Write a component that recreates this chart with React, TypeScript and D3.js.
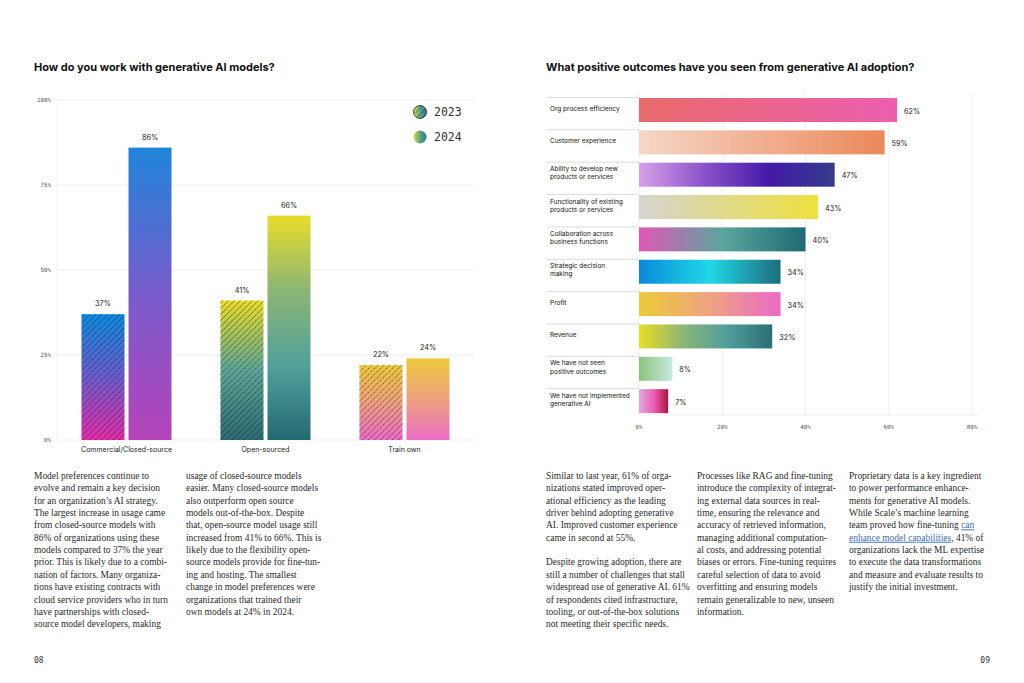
import React from "react";
import * as d3 from "d3";

// ---------- DATA ----------
const modelCategories = ["Commercial/Closed-source", "Open-sourced", "Train own"];
const years = ["2023", "2024"];
const values2023 = [37, 41, 22];
const values2024 = [86, 66, 24];
const yTicks = [0, 25, 50, 75, 100];

const outcomeLabels = [
  ["Org process efficiency"],
  ["Customer experience"],
  ["Ability to develop new", "products or services"],
  ["Functionality of existing", "products or services"],
  ["Collaboration across", "business functions"],
  ["Strategic decision", "making"],
  ["Profit"],
  ["Revenue"],
  ["We have not seen", "positive outcomes"],
  ["We have not implemented", "generative AI"],
];
const outcomeValues = [62, 59, 47, 43, 40, 34, 34, 32, 8, 7];
const xTicks = [0, 20, 40, 60, 80];

const titleLeft = "How do you work with generative AI models?";
const titleRight = "What positive outcomes have you seen from generative AI adoption?";

const col1 = [
  "Model preferences continue to",
  "evolve and remain a key decision",
  "for an organization\u2019s AI strategy.",
  "The largest increase in usage came",
  "from closed-source models with",
  "86% of organizations using these",
  "models compared to 37% the year",
  "prior. This is likely due to a combi-",
  "nation of factors. Many organiza-",
  "tions have existing contracts with",
  "cloud service providers who in turn",
  "have partnerships with closed-",
  "source model developers, making",
];
const col2 = [
  "usage of closed-source models",
  "easier. Many closed-source models",
  "also outperform open source",
  "models out-of-the-box. Despite",
  "that, open-source model usage still",
  "increased from 41% to 66%. This is",
  "likely due to the flexibility open-",
  "source models provide for fine-tun-",
  "ing and hosting. The smallest",
  "change in model preferences were",
  "organizations that trained their",
  "own models at 24% in 2024.",
];
const col3 = [
  "Similar to last year, 61% of orga-",
  "nizations stated improved oper-",
  "ational efficiency as the leading",
  "driver behind adopting generative",
  "AI. Improved customer experience",
  "came in second at 55%.",
  "",
  "Despite growing adoption, there are",
  "still a number of challenges that stall",
  "widespread use of generative AI. 61%",
  "of respondents cited infrastructure,",
  "tooling, or out-of-the-box solutions",
  "not meeting their specific needs.",
];
const col4 = [
  "Processes like RAG and fine-tuning",
  "introduce the complexity of integrat-",
  "ing external data sources in real-",
  "time, ensuring the relevance and",
  "accuracy of retrieved information,",
  "managing additional computation-",
  "al costs, and addressing potential",
  "biases or errors. Fine-tuning requires",
  "careful selection of data to avoid",
  "overfitting and ensuring models",
  "remain generalizable to new, unseen",
  "information.",
];
// segments: [text, isLink]
const col5: [string, boolean][][] = [
  [["Proprietary data is a key ingredient", false]],
  [["to power performance enhance-", false]],
  [["ments for generative AI models.", false]],
  [["While Scale\u2019s machine learning", false]],
  [["team proved how fine-tuning ", false], ["can", true]],
  [["enhance model capabilities", true], [", 41% of", false]],
  [["organizations lack the ML expertise", false]],
  [["to execute the data transformations", false]],
  [["and measure and evaluate results to", false]],
  [["justify the initial investment.", false]],
];
const pageLeft = "08";
const pageRight = "09";

// ---------- STYLES ----------
const grad2023 = [
  ["#0a8ae0", "#6c5ccc", "#e52cab"],
  ["#e9dd28", "#5da596", "#2c6b73"],
  ["#ecc83a", "#efa07f", "#ea6cc6"],
];
const grad2024 = [
  ["#2085db", "#785ccb", "#b643b9"],
  ["#e9dc28", "#8bb674", "#52a19b", "#226a73"],
  ["#eec93a", "#eea27f", "#ec6dc7"],
];
const outcomeGrads = [
  ["#e96a6a", "#ec5fb0"],
  ["#f6d6c7", "#eb895b"],
  ["#d8a0e6", "#8a52c9", "#4419a8", "#343c8b"],
  ["#d5d4cf", "#eee03e"],
  ["#e157b6", "#5aa69d", "#1f6a73"],
  ["#0a88da", "#20d8e7", "#1c6d7c"],
  ["#eccb38", "#eea380", "#eb6ac8"],
  ["#e8de24", "#8bb677", "#4f9d9b", "#2a6f75"],
  ["#8cc47d", "#c7e9de"],
  ["#deaadb", "#ec5fb9", "#ad143b"],
];

const SANS = "Inter, 'Liberation Sans', sans-serif";
const MONO = "'DejaVu Sans Mono', monospace";
const SERIF = "'Liberation Serif', 'DejaVu Serif', serif";
const BODY_SIZE = 9.45;

function Stops({ colors }: { colors: string[] }) {
  return (
    <>
      {colors.map((c, i) => (
        <stop key={i} offset={`${(i / (colors.length - 1)) * 100}%`} stopColor={c} />
      ))}
    </>
  );
}

export default function App() {
  // left chart scales
  const y = d3.scaleLinear().domain([0, 100]).range([440, 100]);
  const x0 = d3.scaleBand().domain(modelCategories).range([57, 474]).paddingInner(0).paddingOuter(0);
  const barW = 43;
  const gap = 4;

  // right chart scales
  const x = d3.scaleLinear().domain([0, 80]).range([639, 972]);
  const rowStep = 32.35;
  const rowTop = (i: number) => 98 + i * rowStep;
  const barH = 24;

  const textLine = 12.35;

  const renderCol = (lines: string[], x0: number) => (
    <text fontFamily={SERIF} fontSize={BODY_SIZE} fill="#2a2a2a">
      {lines.map((l, i) => (
        <tspan key={i} x={x0} y={479 + i * textLine}>
          {l}
        </tspan>
      ))}
    </text>
  );

  return (
    <svg
      width={1024}
      height={683}
      style={{ position: "absolute", left: 0, top: 0, background: "#fff" }}
    >
      <defs>
        <pattern
          id="hatch"
          patternUnits="userSpaceOnUse"
          width={4.2}
          height={4.2}
          patternTransform="rotate(45)"
        >
          <line x1={0} y1={0} x2={0} y2={4.2} stroke="#111" strokeWidth={0.85} strokeDasharray="1 0.6" />
        </pattern>
        {grad2023.map((g, i) => (
          <linearGradient key={"a" + i} id={`g23-${i}`} x1="0" y1="0" x2="0" y2="1">
            <Stops colors={g} />
          </linearGradient>
        ))}
        {grad2024.map((g, i) => (
          <linearGradient key={"b" + i} id={`g24-${i}`} x1="0" y1="0" x2="0" y2="1">
            <Stops colors={g} />
          </linearGradient>
        ))}
        {outcomeGrads.map((g, i) => (
          <linearGradient key={"o" + i} id={`go-${i}`} x1="0" y1="0" x2="1" y2="0">
            <Stops colors={g} />
          </linearGradient>
        ))}
        <linearGradient id="legendGrad" x1="0" y1="0" x2="1" y2="0">
          <Stops colors={["#e8dc2a", "#5aa598", "#2c7a80"]} />
        </linearGradient>
      </defs>

      {/* ---------- LEFT CHART ---------- */}
      <text x={34} y={71} fontFamily={SANS} fontWeight={700} fontSize={11} fill="#111">
        {titleLeft}
      </text>
      {yTicks.map((t) => (
        <g key={t}>
          <line x1={57} x2={474} y1={y(t)} y2={y(t)} stroke="#efefef" strokeWidth={1} />
          <text x={51} y={y(t) + 2} textAnchor="end" fontFamily={MONO} fontSize={5.8} fill="#555">
            {t}%
          </text>
        </g>
      ))}
      <line x1={57} x2={57} y1={100} y2={440} stroke="#f2f2f2" strokeWidth={1} />

      {modelCategories.map((c, i) => {
        const cx = (x0(c) as number) + x0.bandwidth() / 2;
        const xa = cx - gap / 2 - barW;
        const xb = cx + gap / 2;
        const ya = y(values2023[i]);
        const yb = y(values2024[i]);
        return (
          <g key={c}>
            <rect x={xa} y={ya} width={barW} height={y(0) - ya} fill={`url(#g23-${i})`} />
            <rect x={xa} y={ya} width={barW} height={y(0) - ya} fill="url(#hatch)" />
            <rect x={xb} y={yb} width={barW} height={y(0) - yb} fill={`url(#g24-${i})`} />
            <text x={xa + barW / 2} y={ya - 8} textAnchor="middle" fontFamily={SANS} fontSize={7.3} fill="#222">
              {values2023[i]}%
            </text>
            <text x={xb + barW / 2} y={yb - 8} textAnchor="middle" fontFamily={SANS} fontSize={7.3} fill="#222">
              {values2024[i]}%
            </text>
            <text x={cx} y={452} textAnchor="middle" fontFamily={SANS} fontSize={7} fill="#222">
              {c}
            </text>
          </g>
        );
      })}

      {/* legend */}
      {years.map((yr, i) => (
        <g key={yr} transform={`translate(0, ${112 + i * 25})`}>
          <circle cx={420} cy={0} r={6.5} fill="url(#legendGrad)" />
          {i === 0 && (
            <circle cx={420} cy={0} r={6.5} fill="url(#hatch)" stroke="#222" strokeWidth={0.8} />
          )}
          <text x={434} y={4} fontFamily={MONO} fontSize={11.5} fill="#333">
            {yr}
          </text>
        </g>
      ))}

      {/* ---------- RIGHT CHART ---------- */}
      <text x={546} y={71} fontFamily={SANS} fontWeight={700} fontSize={11} fill="#111">
        {titleRight}
      </text>
      {xTicks.map((t) => (
        <g key={t}>
          <line x1={x(t)} x2={x(t)} y1={93} y2={415} stroke="#efefef" strokeWidth={1} />
          <text x={x(t)} y={429} textAnchor="middle" fontFamily={MONO} fontSize={5.8} fill="#555">
            {t}%
          </text>
        </g>
      ))}
      <line x1={639} x2={977} y1={415} y2={415} stroke="#efefef" strokeWidth={1} />

      {outcomeLabels.map((lab, i) => {
        const top = rowTop(i);
        const v = outcomeValues[i];
        return (
          <g key={i}>
            <line x1={547} x2={639} y1={top - 0.5} y2={top - 0.5} stroke="#dcdcdc" strokeWidth={1} />
            <rect x={x(0)} y={top} width={x(v) - x(0)} height={barH} fill={`url(#go-${i})`} />
            <text fontFamily={SANS} fontSize={6.5} fill="#111">
              {lab.length === 1 ? (
                <tspan x={550} y={top + 13}>{lab[0]}</tspan>
              ) : (
                lab.map((l, j) => (
                  <tspan key={j} x={550} y={top + 8.5 + j * 8.2}>
                    {l}
                  </tspan>
                ))
              )}
            </text>
            <text x={x(v) + 7} y={top + barH / 2 + 3.5} fontFamily={SANS} fontSize={7.3} fill="#222">
              {v}%
            </text>
          </g>
        );
      })}

      {/* ---------- BODY TEXT ---------- */}
      {renderCol(col1, 34)}
      {renderCol(col2, 186)}
      {renderCol(col3, 546)}
      {renderCol(col4, 697)}
      <text fontFamily={SERIF} fontSize={BODY_SIZE} fill="#2a2a2a">
        {col5.map((segs, i) => (
          <tspan key={i} x={849} y={479 + i * textLine}>
            {segs.map(([s, link], j) => (
              <tspan key={j} fill={link ? "#3a6db5" : "#2a2a2a"} textDecoration={link ? "underline" : undefined}>
                {s}
              </tspan>
            ))}
          </tspan>
        ))}
      </text>

      <text x={34} y={663} fontFamily={MONO} fontSize={8} fill="#333">
        {pageLeft}
      </text>
      <text x={990} y={663} textAnchor="end" fontFamily={MONO} fontSize={8} fill="#333">
        {pageRight}
      </text>
    </svg>
  );
}
